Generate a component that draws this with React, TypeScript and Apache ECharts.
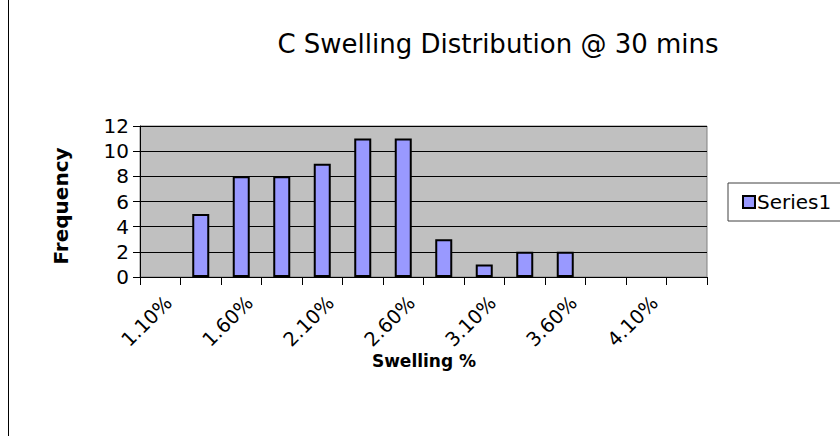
import React, { useEffect, useRef } from "react";
import * as echarts from "echarts";

const categories = [
  "1.10%", "1.35%", "1.60%", "1.85%", "2.10%", "2.35%", "2.60%",
  "2.85%", "3.10%", "3.35%", "3.60%", "3.85%", "4.10%", "4.35%",
];
const frequency = [0, 5, 8, 8, 9, 11, 11, 3, 1, 2, 2, 0, 0, 0];
const seriesName = "Series1";
const titleText = "C Swelling Distribution @ 30 mins";
const xAxisTitle = "Swelling %";
const yAxisTitle = "Frequency";

const FONT = "DejaVu Sans";

export default function App() {
  const ref = useRef<HTMLDivElement>(null);
  useEffect(() => {
    if (!ref.current) return;
    const chart = echarts.init(ref.current, null, { renderer: "svg" });
    chart.setOption({
      animation: false,
      backgroundColor: "#ffffff",
      textStyle: { fontFamily: FONT },
      title: {
        text: titleText,
        left: 493,
        textAlign: "center",
        top: 26,
        textStyle: { fontFamily: FONT, fontSize: 26, fontWeight: "normal", color: "#000" },
      },
      legend: {
        left: 728,
        top: 183,
        padding: [9, 40, 9, 14],
        borderColor: "#404040",
        borderWidth: 1,
        backgroundColor: "#fff",
        itemWidth: 12,
        itemHeight: 12,
        itemGap: 4,
        icon: "rect",
        textStyle: { fontFamily: FONT, fontSize: 20, color: "#000", padding: [0, 0, 0, -3] },
        data: [seriesName],
      },
      grid: {
        left: 140,
        top: 126,
        right: 133,
        bottom: 159,
        show: true,
        backgroundColor: "#C0C0C0",
        borderColor: "#808080",
        borderWidth: 1,
      },
      xAxis: {
        type: "category",
        data: categories,
        boundaryGap: true,
        axisLine: { show: true, lineStyle: { color: "#000", width: 1 } },
        axisTick: { show: true, interval: 0, length: 8, lineStyle: { color: "#000" } },
        axisLabel: {
          interval: 1,
          rotate: 45,
          margin: 14,
          fontFamily: FONT,
          fontSize: 19.5,
          color: "#000",
          verticalAlign: "top",
          lineHeight: 24,
        },
        splitLine: { show: false },
      },
      yAxis: {
        type: "value",
        min: 0,
        max: 12,
        interval: 2,
        axisLine: { show: true, lineStyle: { color: "#000", width: 1 } },
        axisTick: { show: true, length: 7, lineStyle: { color: "#000" } },
        axisLabel: { fontFamily: FONT, fontSize: 20, color: "#000", margin: 11 },
        splitLine: { show: true, lineStyle: { color: "#000", width: 1 } },
      },
      series: [
        {
          name: seriesName,
          type: "bar",
          data: frequency.map((v) => (v === 0 ? "-" : v)),
          barWidth: "42%",
          itemStyle: { color: "#9999FF", borderColor: "#000", borderWidth: 2 },
        },
      ],
      graphic: [
        {
          type: "line",
          shape: { x1: 8.5, y1: 0, x2: 8.5, y2: 436 },
          style: { stroke: "#000", lineWidth: 1 },
        },
        {
          type: "text",
          x: 61,
          y: 206,
          rotation: Math.PI / 2,
          style: {
            text: yAxisTitle,
            fontFamily: FONT,
            fontSize: 20,
            fontWeight: "bold",
            fill: "#000",
            align: "center",
            verticalAlign: "middle",
          },
        },
        {
          type: "text",
          x: 424,
          y: 361,
          style: {
            text: xAxisTitle,
            fontFamily: FONT,
            fontSize: 17,
            fontWeight: "bold",
            fill: "#000",
            align: "center",
            verticalAlign: "middle",
          },
        },
      ],
    });
    return () => chart.dispose();
  }, []);
  return <div ref={ref} style={{ width: 840, height: 436, position: "fixed", left: 0, top: 0 }} />;
}
